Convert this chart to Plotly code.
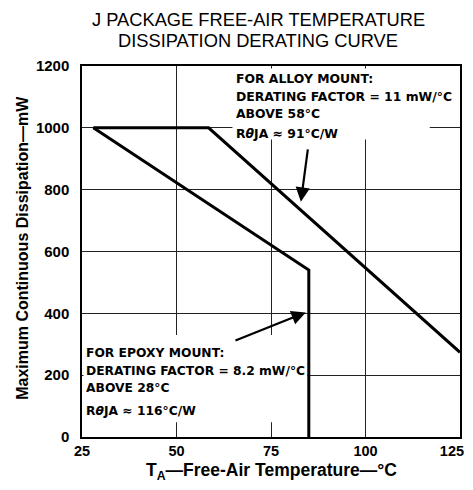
import plotly.graph_objects as go

# Data
alloy_temp = [28, 58.5, 125]
alloy_power = [1000, 1000, 274]
epoxy_temp = [28, 85, 85]
epoxy_power = [1000, 540, 0]

x_ticks = [25, 50, 75, 100, 125]
x_tick_labels = ["25", "50", "75", "100", "125\u00a0\u00a0\u00a0\u00a0"]
y_ticks = [0, 200, 400, 600, 800, 1000, 1200]

title_lines = ["J PACKAGE FREE-AIR TEMPERATURE", "DISSIPATION DERATING CURVE"]
alloy_text = ["FOR ALLOY MOUNT:",
              "DERATING FACTOR = 11 mW/°C",
              "ABOVE 58°C",
              "R<i>θ</i>JA ≈ 91°C/W"]
epoxy_text = ["FOR EPOXY MOUNT:",
              "DERATING FACTOR = 8.2 mW/°C",
              "ABOVE 28°C",
              "R<i>θ</i>JA ≈ 116°C/W"]

FONT = "Liberation Sans"
NOTE_FONT = "DejaVu Sans"

fig = go.Figure()
fig.add_trace(go.Scatter(x=alloy_temp, y=alloy_power, mode="lines",
                         line=dict(color="black", width=3), showlegend=False,
                         hoverinfo="skip"))
fig.add_trace(go.Scatter(x=epoxy_temp, y=epoxy_power, mode="lines",
                         line=dict(color="black", width=3), showlegend=False,
                         hoverinfo="skip"))

# white blocks behind text that interrupt gridlines
fig.add_shape(type="rect", xref="x", yref="y", x0=64.8, x1=117, y0=962, y1=1192,
              fillcolor="white", line=dict(width=0), layer="between")
fig.add_shape(type="rect", xref="x", yref="y", x0=25.4, x1=84.6, y0=48, y1=330,
              fillcolor="white", line=dict(width=0), layer="between")

annotations = []
for txt, yy in zip(alloy_text, [1161, 1100, 1046, 982]):
    annotations.append(dict(x=65.3, y=yy, xref="x", yref="y", text="<b>%s</b>" % txt,
                            showarrow=False, xanchor="left", yanchor="middle",
                            font=dict(family=NOTE_FONT, size=12.4, color="black")))
for txt, yy in zip(epoxy_text, [271, 213, 158, 84]):
    annotations.append(dict(x=25.5, y=yy, xref="x", yref="y", text="<b>%s</b>" % txt,
                            showarrow=False, xanchor="left", yanchor="middle",
                            font=dict(family=NOTE_FONT, size=12.3, color="black")))

# arrows
annotations.append(dict(x=82.9, y=761, ax=84.8, ay=935, xref="x", yref="y",
                        axref="x", ayref="y", text="", showarrow=True,
                        arrowhead=2, arrowsize=1.3, arrowwidth=2.2, arrowcolor="black"))
annotations.append(dict(x=84.2, y=403, ax=65.2, ay=310, xref="x", yref="y",
                        axref="x", ayref="y", text="", showarrow=True,
                        arrowhead=2, arrowsize=1.3, arrowwidth=2.2, arrowcolor="black"))

# title
for txt, yy in zip(title_lines, [1.125, 1.068]):
    annotations.append(dict(x=0.466, y=yy, xref="paper", yref="paper", text=txt,
                            showarrow=False, xanchor="center", yanchor="middle",
                            font=dict(family=FONT, size=18.3, color="black")))
# axis titles
annotations.append(dict(x=0.5, y=-0.094, xref="paper", yref="paper",
                        text="<b>T<sub>A</sub>—Free-Air Temperature—°C</b>",
                        showarrow=False, xanchor="center", yanchor="middle",
                        font=dict(family=FONT, size=17.5, color="black")))
annotations.append(dict(x=-0.156, y=0.51, xref="paper", yref="paper",
                        text="<b>Maximum Continuous Dissipation—mW</b>", textangle=-90,
                        showarrow=False, xanchor="center", yanchor="middle",
                        font=dict(family=FONT, size=16, color="black")))

fig.update_layout(
    width=465, height=474,
    margin=dict(l=74, r=13, t=58, b=45, autoexpand=False),
    paper_bgcolor="white", plot_bgcolor="white",
    annotations=annotations,
    showlegend=False,
)
fig.update_xaxes(range=[25, 125], tickvals=x_ticks, ticktext=x_tick_labels,
                 showgrid=True, gridcolor="#222", gridwidth=1,
                 showline=True, linecolor="black", linewidth=1.5, mirror=True,
                 ticks="", ticklabelstandoff=0, zeroline=False,
                 automargin=False, ticklabeloverflow="allow",
                 tickfont=dict(family=FONT, size=14.5, color="black", weight="bold"))
fig.update_yaxes(range=[0, 1200], tickvals=y_ticks, ticktext=[str(v) for v in y_ticks],
                 showgrid=True, gridcolor="#222", gridwidth=1,
                 showline=True, linecolor="black", linewidth=1.5, mirror=True,
                 ticks="", ticklabelstandoff=8, zeroline=False, automargin=False,
                 tickfont=dict(family=FONT, size=15, color="black", weight="bold"))

fig.write_html("out.html")
